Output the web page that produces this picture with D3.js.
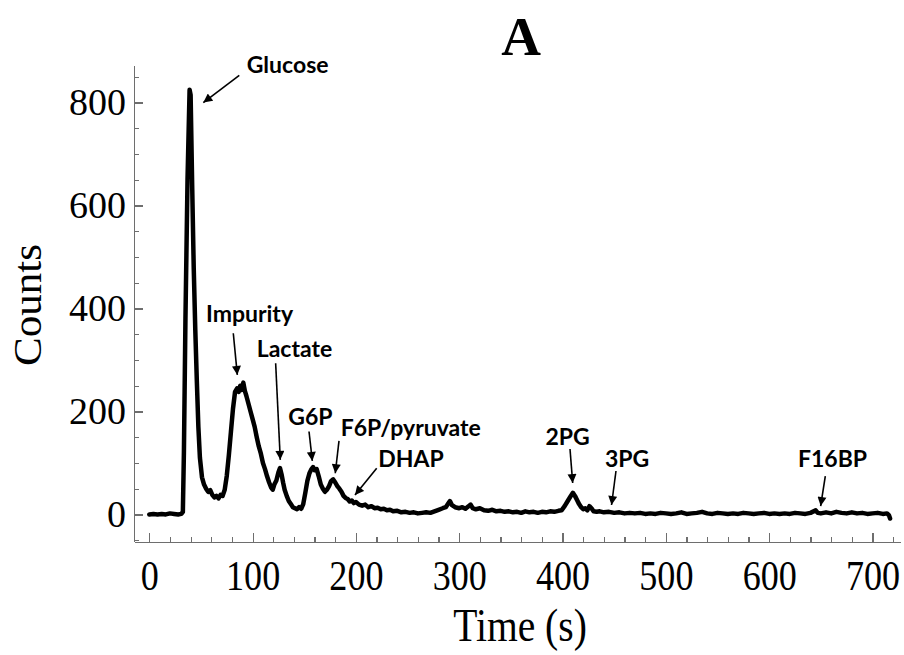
<!DOCTYPE html>
<html>
<head>
<meta charset="utf-8">
<script src="https://cdn.jsdelivr.net/npm/d3@7"></script>
<style>
  html, body { margin: 0; padding: 0; background: #fff; }
  svg { display: block; }
  .axis path, .axis line { stroke: #6e6e6e; stroke-width: 1.2; shape-rendering: crispEdges; }
  .axis text { font-family: "Liberation Serif", "Times New Roman", serif; fill: #000; }
  .label { font-family: "Liberation Serif", "Times New Roman", serif; fill: #000; }
  .peak-label { font-family: Lato, "Open Sans", sans-serif; font-weight: bold; font-size: 23px; fill: #000; }
</style>
</head>
<body>
<div id="chart"></div>
<script>
// chromatogram trace (time in s, counts)
const times = [
  0, 4, 8, 12, 16, 20, 24, 28, 31, 32.5, 33.5, 35, 37, 39, 40, 41.5, 43, 44.5, 46, 47.5,
  49, 51, 53, 55, 57, 59, 61, 63, 65, 67, 69, 71, 73, 75, 77, 79, 81, 83, 85, 86.5,
  88, 89.5, 91, 92.5, 94, 96, 98, 100, 102, 104, 106, 108, 110, 112, 114, 116, 118, 119.5, 121, 123,
  125, 126.5, 128, 129.5, 131, 133, 135, 137, 139, 141, 143, 145, 147, 149, 151, 153, 155, 157, 158.5, 160,
  162, 164, 166, 168, 170, 172, 174, 176, 178, 180, 182, 184, 186, 188, 190, 192, 194, 196, 198, 200,
  203, 206, 209, 212, 215, 218, 221, 224, 227, 230, 233, 236, 240, 244, 248, 252, 256, 260, 264, 268,
  272, 276, 280, 284, 287, 289, 291, 293, 296, 300, 303, 306, 309, 311, 313, 316, 320, 324, 328, 332,
  336, 340, 344, 348, 352, 356, 360, 364, 368, 372, 376, 380, 384, 388, 392, 396, 399, 402, 405, 408,
  410, 412, 414, 416, 418, 420, 422, 424, 426, 428, 430, 433, 436, 440, 445, 450, 455, 460, 465, 470,
  475, 480, 485, 490, 495, 500, 505, 510, 515, 520, 525, 530, 535, 540, 545, 550, 555, 560, 565, 570,
  575, 580, 585, 590, 595, 600, 605, 610, 615, 620, 625, 630, 635, 640, 645, 647, 650, 655, 660, 665,
  670, 675, 680, 685, 690, 695, 700, 705, 710, 714, 716, 717,
];
const counts = [
  0, 1, 0, 1, 0, 2, 1, 0, 1, 5, 120, 380, 650, 825, 815, 640, 480, 360, 260, 170,
  110, 72, 58, 50, 44, 47, 38, 33, 36, 31, 38, 36, 48, 75, 115, 160, 205, 238, 245, 238,
  250, 242, 256, 240, 230, 215, 200, 185, 170, 150, 132, 118, 100, 88, 74, 62, 52, 48, 58, 66,
  82, 90, 78, 62, 48, 36, 26, 20, 14, 12, 10, 14, 11, 20, 42, 65, 80, 88, 92, 86,
  88, 74, 58, 50, 44, 48, 55, 65, 68, 62, 55, 50, 44, 36, 32, 30, 25, 27, 22, 24,
  19, 17, 19, 14, 16, 12, 13, 10, 11, 8, 9, 6, 7, 4, 5, 3, 4, 2, 3, 4,
  3, 6, 9, 12, 14, 20, 26, 18, 14, 12, 14, 11, 16, 19, 12, 10, 12, 8, 7, 9,
  6, 7, 5, 6, 4, 5, 3, 6, 4, 5, 3, 5, 4, 6, 5, 7, 8, 16, 26, 36,
  42, 36, 28, 20, 14, 10, 12, 8, 16, 12, 6, 5, 6, 4, 5, 3, 4, 2, 3, 2,
  3, 1, 2, 1, 3, 2, 1, 2, 4, 1, 2, 3, 5, 2, 1, 3, 2, 1, 2, 1,
  3, 2, 1, 2, 3, 1, 2, 1, 2, 1, 3, 2, 1, 3, 8, 3, 2, 4, 2, 5,
  3, 2, 4, 2, 3, 1, 2, 3, 1, 2, -2, -8,
];

// peak annotations, in data units (label anchor, arrow tail, arrow tip)
const peakNames = ['Glucose', 'Impurity', 'Lactate', 'G6P', 'F6P/pyruvate', 'DHAP', '2PG', '3PG', 'F16BP'];
const labelT = [94.3, 54.9, 104, 134.5, 185.3, 221.6, 383.4, 441.1, 627.9];
const labelC = [858, 374, 306, 174, 153, 92, 135, 92, 92];
const tailT = [87.1, 81.3, 122.3, 154.6, 183.6, 220.1, 407.2, 451.7, 654.3];
const tailC = [853, 352, 293.5, 161, 143, 89.6, 127, 84.3, 74.6];
const tipT = [52.3, 85.2, 126.8, 157.8, 180, 199.1, 409.8, 447.4, 649.8];
const tipC = [800, 271, 106, 104, 80, 37.7, 61, 18.3, 16.3];

const xMajorTicks = [0, 100, 200, 300, 400, 500, 600, 700];
const yMajorTicks = [0, 200, 400, 600, 800];

const width = 904;
const height = 655;
const plotLeft = 134;
const plotRight = 900;
const plotTop = 65;
const plotBottom = 541.7;

const svg = d3.select('#chart')
  .append('svg')
  .attr('width', width)
  .attr('height', height)
  .attr('viewBox', `0 0 ${width} ${height}`);

const x = d3.scaleLinear().domain([-14.8, 726.6]).range([plotLeft, plotRight]);
const y = d3.scaleLinear().domain([-53, 873]).range([plotBottom, plotTop]);

/* AXES */

const xMinor = d3.axisBottom(x)
  .tickValues(d3.range(0, 721, 20))
  .tickFormat('')
  .tickSizeInner(-4.5)
  .tickSizeOuter(0);

const xMajor = d3.axisBottom(x)
  .tickValues(xMajorTicks)
  .tickSizeInner(-8.5)
  .tickSizeOuter(0)
  .tickPadding(18);

const yMinor = d3.axisLeft(y)
  .tickValues(d3.range(-50, 851, 50))
  .tickFormat('')
  .tickSizeInner(-4.5)
  .tickSizeOuter(0);

const yMajor = d3.axisLeft(y)
  .tickValues(yMajorTicks)
  .tickSizeInner(-8.5)
  .tickSizeOuter(0)
  .tickPadding(8);

svg.append('g')
  .attr('class', 'axis')
  .attr('transform', `translate(0, ${plotBottom})`)
  .call(xMinor);

const gx = svg.append('g')
  .attr('class', 'axis')
  .attr('transform', `translate(0, ${plotBottom})`)
  .call(xMajor);

gx.selectAll('text')
  .style('font-size', '42px')
  .attr('transform', 'scale(0.86, 1)');

svg.append('g')
  .attr('class', 'axis')
  .attr('transform', `translate(${plotLeft}, 0)`)
  .call(yMinor);

const gy = svg.append('g')
  .attr('class', 'axis')
  .attr('transform', `translate(${plotLeft}, 0)`)
  .call(yMajor);

gy.selectAll('text')
  .style('font-size', '38px');

/* TITLES */

svg.append('text')
  .attr('class', 'label')
  .attr('x', 521)
  .attr('y', 55)
  .style('text-anchor', 'middle')
  .style('font-size', '55px')
  .style('font-weight', 'bold')
  .text('A');

svg.append('text')
  .attr('class', 'label')
  .attr('transform', 'translate(41, 305) rotate(-90) scale(1.05, 1)')
  .style('text-anchor', 'middle')
  .style('font-size', '41px')
  .text('Counts');

svg.append('text')
  .attr('class', 'label')
  .attr('transform', 'translate(520, 641) scale(0.86, 1)')
  .style('text-anchor', 'middle')
  .style('font-size', '46px')
  .text('Time (s)');

/* TRACE */

const points = times.map((t, i) => [t, counts[i]]);

const line = d3.line()
  .x(d => x(d[0]))
  .y(d => y(d[1]));

svg.append('path')
  .datum(points)
  .attr('fill', 'none')
  .attr('stroke', '#000')
  .attr('stroke-width', 4.5)
  .attr('stroke-linejoin', 'round')
  .attr('stroke-linecap', 'round')
  .attr('d', line);

/* ANNOTATIONS */

svg.append('defs')
  .append('marker')
  .attr('id', 'arrow')
  .attr('viewBox', '0 0 10 10')
  .attr('refX', 10)
  .attr('refY', 5)
  .attr('markerUnits', 'userSpaceOnUse')
  .attr('markerWidth', 11)
  .attr('markerHeight', 9)
  .attr('orient', 'auto')
  .append('path')
  .attr('d', 'M0,0 L10,5 L0,10 z')
  .attr('fill', '#000');

const notes = svg.selectAll('.note')
  .data(peakNames)
  .enter()
  .append('g')
  .attr('class', 'note');

notes.append('line')
  .attr('x1', (d, i) => x(tailT[i]))
  .attr('y1', (d, i) => y(tailC[i]))
  .attr('x2', (d, i) => x(tipT[i]))
  .attr('y2', (d, i) => y(tipC[i]))
  .attr('stroke', '#000')
  .attr('stroke-width', 1.6)
  .attr('marker-end', 'url(#arrow)');

notes.append('text')
  .attr('class', 'peak-label')
  .attr('x', (d, i) => x(labelT[i]))
  .attr('y', (d, i) => y(labelC[i]))
  .text(d => d);
</script>
</body>
</html>
